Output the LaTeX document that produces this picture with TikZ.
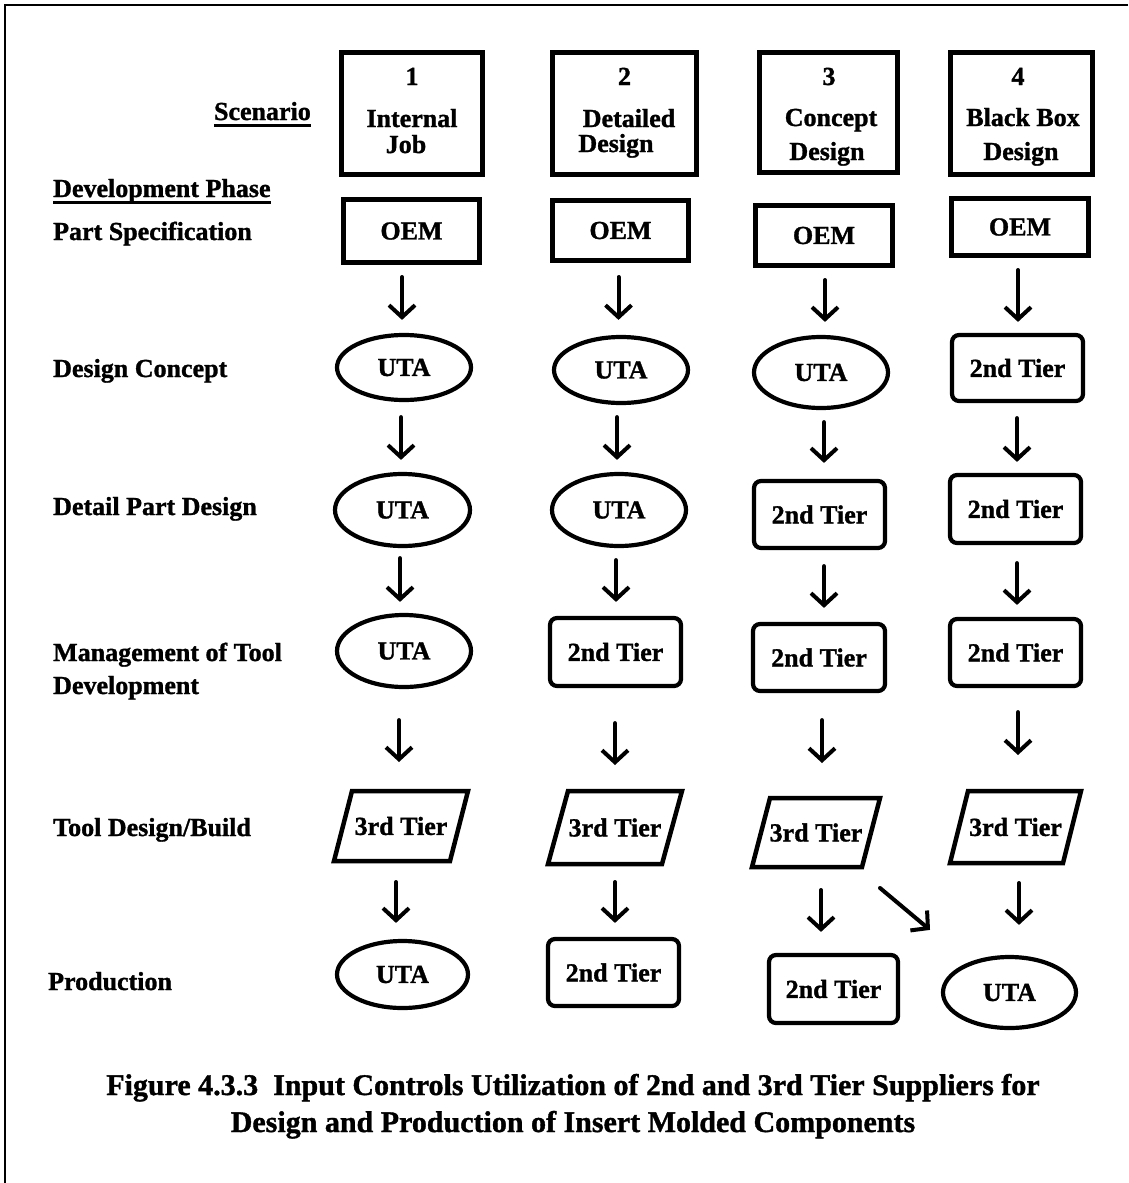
\documentclass[tikz,border=0pt]{standalone}
\usepackage{fontspec}
\setmainfont{Liberation Serif}[BoldFeatures={FakeBold=1.2}]
\usetikzlibrary{shapes.geometric,arrows.meta,calc}
\newcommand\myul[2]{\setbox0\hbox{#2}\rlap{\rule[-#1]{\wd0}{2.6pt}}\box0}
\newcommand\varr[5]{\draw[arr] ($(#1.south)+(#3,#4)$) -- ($(#1.south |- #2.north)+(#3,-#5)$);}
\begin{document}
\begin{tikzpicture}[x=1pt,y=-1pt,
  lbl/.style={font=\fontsize{26}{30}\selectfont\bfseries, inner sep=0, anchor=base west},
  htxt/.style={font=\fontsize{26}{30}\selectfont\bfseries, inner sep=0, anchor=base},
  captxt/.style={font=\fontsize{30}{36}\selectfont\bfseries, inner sep=0, anchor=base},
  ntxt/.style={font=\fontsize{26}{30}\selectfont\bfseries},
  hdr/.style={draw, line width=5, inner sep=0},
  oembox/.style={draw, line width=5, inner sep=0, ntxt},
  uta/.style={ellipse, draw, line width=4.2, inner sep=0, ntxt},
  tiertwo/.style={rectangle, draw, line width=4.2, rounded corners=7, inner sep=0, ntxt},
  tierthree/.style={inner sep=0, outer sep=0, ntxt},
  pline/.style={line width=4.5, line join=miter},
  arr/.style={line width=4, line cap=round, -{Straight Barb[length=12pt,width=26pt]}},
  frameline/.style={line width=2},
]
\useasboundingbox (0,0) rectangle (1128,1183);
\draw[frameline] (1128,5) -- (5,5) -- (5,1183);

% header boxes
\node[hdr, minimum width=141, minimum height=122] (h1) at (412,113.5) {};
\node[hdr, minimum width=144, minimum height=122] (h2) at (624.5,113.5) {};
\node[hdr, minimum width=138, minimum height=120] (h3) at (828.5,112.5) {};
\node[hdr, minimum width=142, minimum height=122] (h4) at (1021.5,113.5) {};
\node[htxt] (h1a) at (412,85) {1};
\node[htxt] (h1b) at (412,127) {Internal};
\node[htxt] (h1c) at (406,153) {Job};
\node[htxt] (h2a) at (624.5,85) {2};
\node[htxt] (h2b) at (629,127) {Detailed};
\node[htxt] (h2c) at (616,152) {Design};
\node[htxt] (h3a) at (829,85) {3};
\node[htxt] (h3b) at (831,126) {Concept};
\node[htxt] (h3c) at (827,160) {Design};
\node[htxt] (h4a) at (1018,85) {4};
\node[htxt] (h4b) at (1023,126) {Black Box};
\node[htxt] (h4c) at (1021,160) {Design};

% labels
\node[lbl, anchor=base east] (scen) at (311,120) {\myul{7pt}{Scenario}};
\node[lbl] (devp) at (53,197) {\myul{7pt}{Development Phase}};
\node[lbl] (l1) at (53,240) {Part Specification};
\node[lbl] (l2) at (53,377) {Design Concept};
\node[lbl] (l3) at (53,515) {Detail Part Design};
\node[lbl] (l4a) at (53,661) {Management of Tool};
\node[lbl] (l4b) at (53,694) {Development};
\node[lbl] (l5) at (53,836) {Tool Design/Build};
\node[lbl] (l6) at (48,990) {Production};

% row 1: OEM
\node[oembox, minimum width=136, minimum height=63] (o1) at (411.5,231) {OEM};
\node[oembox, minimum width=136, minimum height=60] (o2) at (620.5,230.5) {OEM};
\node[oembox, minimum width=137, minimum height=60] (o3) at (824,235.5) {OEM};
\node[oembox, minimum width=137, minimum height=57] (o4) at (1020,227) {OEM};

% row 2
\node[uta, minimum width=134, minimum height=65] (u1) at (404,367.5) {UTA};
\node[uta, minimum width=134, minimum height=66] (u2) at (621,370) {UTA};
\node[uta, minimum width=134, minimum height=71] (u3) at (821,372.5) {UTA};
\node[tiertwo, minimum width=131, minimum height=66] (t4b) at (1017.5,368) {2nd Tier};

% row 3
\node[uta, minimum width=135, minimum height=72] (u1c) at (402.5,510) {UTA};
\node[uta, minimum width=134, minimum height=72] (u2c) at (619,510) {UTA};
\node[tiertwo, minimum width=131, minimum height=67] (t3c) at (819.5,514.5) {2nd Tier};
\node[tiertwo, minimum width=131, minimum height=68] (t4c) at (1015.5,509) {2nd Tier};

% row 4
\node[uta, minimum width=134, minimum height=72] (u1d) at (404,651) {UTA};
\node[tiertwo, minimum width=131, minimum height=68] (t2d) at (615.5,652) {2nd Tier};
\node[tiertwo, minimum width=132, minimum height=67] (t3d) at (819,657.5) {2nd Tier};
\node[tiertwo, minimum width=131, minimum height=67] (t4d) at (1015.5,652.5) {2nd Tier};

% row 5: parallelograms
\node[tierthree, minimum width=138, minimum height=74] (p1) at (401,826) {3rd Tier};
\node[tierthree, minimum width=138, minimum height=77] (p2) at (615,827.5) {3rd Tier};
\node[tierthree, minimum width=132, minimum height=73] (p3) at (816,832.5) {3rd Tier};
\node[tierthree, minimum width=135, minimum height=76] (p4) at (1015.5,827) {3rd Tier};
\foreach \p/\s in {p1/18,p2/20,p3/18,p4/18}{
  \draw[pline] ($(\p.north west)+(\s+2,2)$) -- ($(\p.north east)+(-2,2)$)
    -- ($(\p.south east)+(-\s-2,-2)$) -- ($(\p.south west)+(2,-2)$) -- cycle;
}

% row 6
\node[uta, minimum width=131, minimum height=67] (u1f) at (402.5,974.5) {UTA};
\node[tiertwo, minimum width=131, minimum height=67] (t2f) at (613.5,972.5) {2nd Tier};
\node[tiertwo, minimum width=129, minimum height=68] (t3f) at (833.5,989) {2nd Tier};
\node[uta, minimum width=133, minimum height=71] (u4f) at (1009.5,992.5) {UTA};

% arrows
\varr{o1}{u1}{-9.5}{12}{13}
\varr{o2}{u2}{-2}{14}{15}
\varr{o3}{u3}{1}{12}{13}
\varr{o4}{t4b}{-2}{12}{11}
\varr{u1}{u1c}{-3}{15}{12}
\varr{u2}{u2c}{-4}{12}{12}
\varr{u3}{t3c}{3}{12}{16}
\varr{t4b}{t4c}{-0.5}{15}{11}
\varr{u1c}{u1d}{-2.5}{10}{11}
\varr{u2c}{t2d}{-3}{12}{14}
\varr{t3c}{t3d}{4.5}{16}{14}
\varr{t4c}{t4d}{1.5}{18}{12}
\varr{u1d}{p1}{-5}{31}{27}
\varr{t2d}{p2}{-0.5}{35}{24}
\varr{t3d}{p3}{3}{27}{33}
\varr{t4d}{p4}{2.5}{24}{34}
\varr{p1}{u1f}{-5}{19}{16}
\varr{p2}{t2f}{0}{16}{14}
\varr{p3}{t3f}{5}{21}{21}
\varr{p4}{u4f}{3.5}{18}{30}
\draw[arr] ($(p3.south)+(64,19)$) -- ($(u4f.north)+(-79.5,-25)$);

% caption
\node[captxt] (cap1) at (573,1095) {Figure 4.3.3\ \ Input Controls Utilization of 2nd and 3rd Tier Suppliers for};
\node[captxt] (cap2) at (573,1132) {Design and Production of Insert Molded Components};
\end{tikzpicture}
\end{document}
